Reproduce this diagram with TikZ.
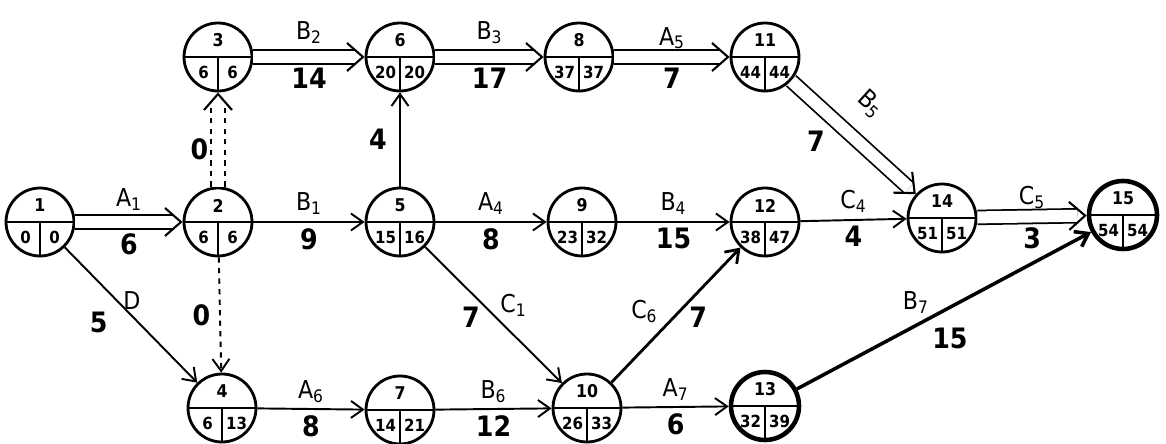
\documentclass[tikz,border=0pt]{standalone}
\usepackage{fontspec}
\setmainfont{DejaVu Sans Condensed}
\usetikzlibrary{arrows.meta,positioning,calc,decorations.markings}
\newcommand{\event}[5][]{%
  \node[evt,#1] (n#2) at (#3) {};
  \node[evnum]  at ([yshift=0.33cm]n#2.center) {#2};
  \node[evtime] at ([xshift=-0.29cm,yshift=-0.31cm]n#2.center) {#4};
  \node[evtime] at ([xshift=0.29cm,yshift=-0.31cm]n#2.center) {#5};
}

\begin{document}
\begin{tikzpicture}[
  evt/.style={circle,draw,line width=1.6pt,minimum size=1.36cm,inner sep=0pt,
              path picture={
                \draw[line width=1.1pt] (path picture bounding box.west) -- (path picture bounding box.east);
                \draw[line width=1.1pt] (path picture bounding box.center) -- (path picture bounding box.south);}},
  heavy/.style={line width=2.6pt},
  evnum/.style={font=\fontsize{10}{10}\selectfont\bfseries,inner sep=0pt},
  evtime/.style={font=\fontsize{9.5}{10}\selectfont\bfseries,inner sep=0pt},
  act/.style={-{Straight Barb[length=2.4mm,width=3.4mm]},line width=1.1pt},
  dummy/.style={act,dashed},
  crit/.style={double,double distance=0.24cm,line width=1pt,shorten >=1.8mm,
               postaction={decorate,decoration={markings,
                 mark=at position 1 with {\arrow[line width=1.2pt]{Straight Barb[length=3.2mm,width=5.6mm]}}}}},
  lbl/.style={font=\fontsize{14}{14}\selectfont,inner sep=1pt},
  wt/.style={font=\fontsize{16}{16}\selectfont\bfseries,inner sep=1pt}
]
\useasboundingbox (0,0) rectangle (23.32,8.86);

% Events (top row)
\event{3}{4.36,7.72}{6}{6}
\event{6}{8.0,7.72}{20}{20}
\event{8}{11.58,7.72}{37}{37}
\event{11}{15.3,7.72}{44}{44}

% Events (middle row)
\event{1}{0.8,4.42}{0}{0}
\event{2}{4.36,4.42}{6}{6}
\event{5}{8.0,4.42}{15}{16}
\event{9}{11.64,4.42}{23}{32}
\event{12}{15.3,4.42}{38}{47}
\event{14}{18.84,4.5}{51}{51}
\event[heavy]{15}{22.46,4.56}{54}{54}

% Events (bottom row)
\event{4}{4.44,0.70}{6}{13}
\event{7}{8.0,0.66}{14}{21}
\event{10}{11.74,0.70}{26}{33}
\event[heavy]{13}{15.3,0.74}{32}{39}

% Critical path
\draw[crit] (n1) -- node[lbl,above=5pt]{A\textsubscript{1}} node[wt,below=5pt]{6} (n2);
\draw[crit,dashed] (n2) -- node[wt,left=4pt,pos=0.4]{0} (n3);
\draw[crit] (n3) -- node[lbl,above=6pt]{B\textsubscript{2}} node[wt,below=5pt]{14} (n6);
\draw[crit] (n6) -- node[lbl,above=6pt]{B\textsubscript{3}} node[wt,below=5pt]{17} (n8);
\draw[crit] (n8) -- node[lbl,above=3pt]{A\textsubscript{5}} node[wt,below=5pt]{7} (n11);
\draw[crit] (n11) -- node[lbl,sloped,above=13pt,pos=0.44]{B\textsubscript{5}} node[wt,below left=6pt,pos=0.35]{7} (n14);
\draw[crit] (n14) -- node[lbl,above=3pt]{C\textsubscript{5}} node[wt,below=5pt]{3} (n15);

% Other activities
\draw[act] (n1) -- node[lbl,above right=-3pt,pos=0.45]{D} node[wt,below left=6pt,pos=0.4]{5} (n4);
\draw[dummy] (n2) -- node[wt,left=4pt]{0} (n4);
\draw[act] (n2) -- node[lbl,above=3pt]{B\textsubscript{1}} node[wt,below=2pt]{9} (n5);
\draw[act] (n5) -- node[wt,left=6pt]{4} (n6);
\draw[act] (n5) -- node[lbl,above=3pt]{A\textsubscript{4}} node[wt,below=2pt]{8} (n9);
\draw[act] (n9) -- node[lbl,above=3pt]{B\textsubscript{4}} node[wt,below=2pt]{15} (n12);
\draw[act] (n12) -- node[lbl,above=3pt]{C\textsubscript{4}} node[wt,below=2pt]{4} (n14);
\draw[act] (n5) -- node[lbl,above right=0pt,pos=0.53]{C\textsubscript{1}} node[wt,below left=0pt,pos=0.42]{7} (n10);
\draw[act,line width=1.6pt] (n10) -- node[lbl,above left=2pt,pos=0.4]{C\textsubscript{6}} node[wt,below right=0pt,pos=0.58]{7} (n12);
\draw[act] (n4) -- node[lbl,above=2pt]{A\textsubscript{6}} node[wt,below=2pt]{8} (n7);
\draw[act] (n7) -- node[lbl,above=2pt]{B\textsubscript{6}} node[wt,below=2pt]{12} (n10);
\draw[act] (n10) -- node[lbl,above=2pt]{A\textsubscript{7}} node[wt,below=2pt]{6} (n13);
\draw[act,line width=2pt] (n13) -- node[lbl,above left=0pt,pos=0.46]{B\textsubscript{7}} node[wt,below=10pt,pos=0.52]{15} (n15);
\end{tikzpicture}
\end{document}
